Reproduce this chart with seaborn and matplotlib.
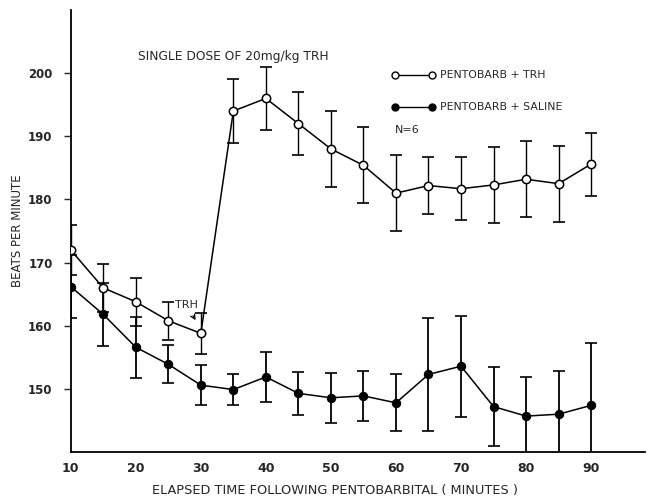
import matplotlib
matplotlib.use("Agg")
import matplotlib.pyplot as plt
import seaborn as sns
import pandas as pd

minutes = [10, 15, 20, 25, 30, 35, 40, 45, 50, 55, 60, 65, 70, 75, 80, 85, 90]
trh_mean = [172.0, 166.0, 163.8, 160.8, 158.8, 194.0, 196.0, 192.0, 188.0, 185.4, 181.0, 182.2, 181.7, 182.3, 183.2, 182.5, 185.6]
trh_err = [4.0, 3.8, 3.8, 3.0, 3.3, 5.0, 5.0, 5.0, 6.0, 6.0, 6.0, 4.5, 5.0, 6.0, 6.0, 6.0, 5.0]
sal_mean = [166.2, 161.8, 156.6, 153.9, 150.6, 149.9, 151.9, 149.3, 148.6, 148.9, 147.8, 152.3, 153.6, 147.2, 145.7, 146.0, 147.4]
sal_err = [5.0, 5.0, 4.8, 3.0, 3.2, 2.5, 4.0, 3.4, 4.0, 3.9, 4.5, 9.0, 8.0, 6.3, 6.2, 6.8, 9.8]
y_ticks = [150, 160, 170, 180, 190, 200]
x_ticks = [10, 20, 30, 40, 50, 60, 70, 80, 90]

df = pd.DataFrame({
    "minutes": minutes * 2,
    "bpm": trh_mean + sal_mean,
    "group": ["PENTOBARB + TRH"] * len(minutes) + ["PENTOBARB + SALINE"] * len(minutes),
})

sns.set_style("white")
plt.rcParams["font.family"] = ["DejaVu Sans"]

fig = plt.figure(figsize=(6.49, 4.99), dpi=100)
ax = fig.add_axes([0.109, 0.094, 0.885, 0.886])

# error bars
ax.errorbar(minutes, trh_mean, yerr=trh_err, fmt="none", ecolor="black",
            elinewidth=1.0, capsize=4, capthick=1.2, zorder=2)
ax.errorbar(minutes, sal_mean, yerr=sal_err, fmt="none", ecolor="black",
            elinewidth=1.3, capsize=4, capthick=1.2, zorder=2)

sns.lineplot(data=df[df.group == "PENTOBARB + TRH"], x="minutes", y="bpm", ax=ax,
             color="black", linewidth=1.1, marker="o", markersize=6,
             markerfacecolor="white", markeredgecolor="black", markeredgewidth=1.1,
             legend=False, zorder=3)
sns.lineplot(data=df[df.group == "PENTOBARB + SALINE"], x="minutes", y="bpm", ax=ax,
             color="black", linewidth=1.1, marker="o", markersize=6,
             markerfacecolor="black", markeredgecolor="black",
             legend=False, zorder=3)

ax.set_xlim(10, 98.3)
ax.set_ylim(140, 210)
ax.set_xticks(x_ticks)
ax.set_yticks(y_ticks)
ax.set_xticklabels([str(t) for t in x_ticks], fontsize=9, fontweight="semibold")
ax.set_yticklabels([str(t) for t in y_ticks], fontsize=8.5, fontweight="semibold")
ax.tick_params(axis="y", direction="out", length=5, width=1, left=True, pad=8)
ax.tick_params(axis="x", direction="out", length=0, pad=7, bottom=True)
sns.despine(ax=ax)
for s in ["left", "bottom"]:
    ax.spines[s].set_color("black")
    ax.spines[s].set_linewidth(1.3)

ax.set_xlabel("ELAPSED TIME FOLLOWING PENTOBARBITAL ( MINUTES )", fontsize=9.3)
ax.xaxis.set_label_coords(0.46, -0.072)
ax.set_ylabel("BEATS PER MINUTE", fontsize=8.5, labelpad=3)

ax.text(0.117, 0.894, "SINGLE DOSE OF 20mg/kg TRH", transform=ax.transAxes, fontsize=8.8,
        va="center")

# legend (manual)
ax.plot([0.564, 0.629], [0.853, 0.853], transform=ax.transAxes, color="black", lw=1)
ax.plot([0.564, 0.629], [0.853, 0.853], transform=ax.transAxes, ls="none", marker="o",
        ms=5, mfc="white", mec="black")
ax.text(0.643, 0.853, "PENTOBARB + TRH", transform=ax.transAxes, fontsize=7.8, va="center")
ax.plot([0.564, 0.629], [0.78, 0.78], transform=ax.transAxes, color="black", lw=1)
ax.plot([0.564, 0.629], [0.78, 0.78], transform=ax.transAxes, ls="none", marker="o",
        ms=5, mfc="black", mec="black")
ax.text(0.643, 0.78, "PENTOBARB + SALINE", transform=ax.transAxes, fontsize=7.8, va="center")
ax.text(0.564, 0.728, "N=6", transform=ax.transAxes, fontsize=8, va="center")

ax.annotate("TRH", xy=(29.4, 160.5), xytext=(26.1, 162.8), fontsize=8,
            arrowprops=dict(arrowstyle="->", color="black", lw=0.9))

fig.savefig("out.png", dpi=100)
